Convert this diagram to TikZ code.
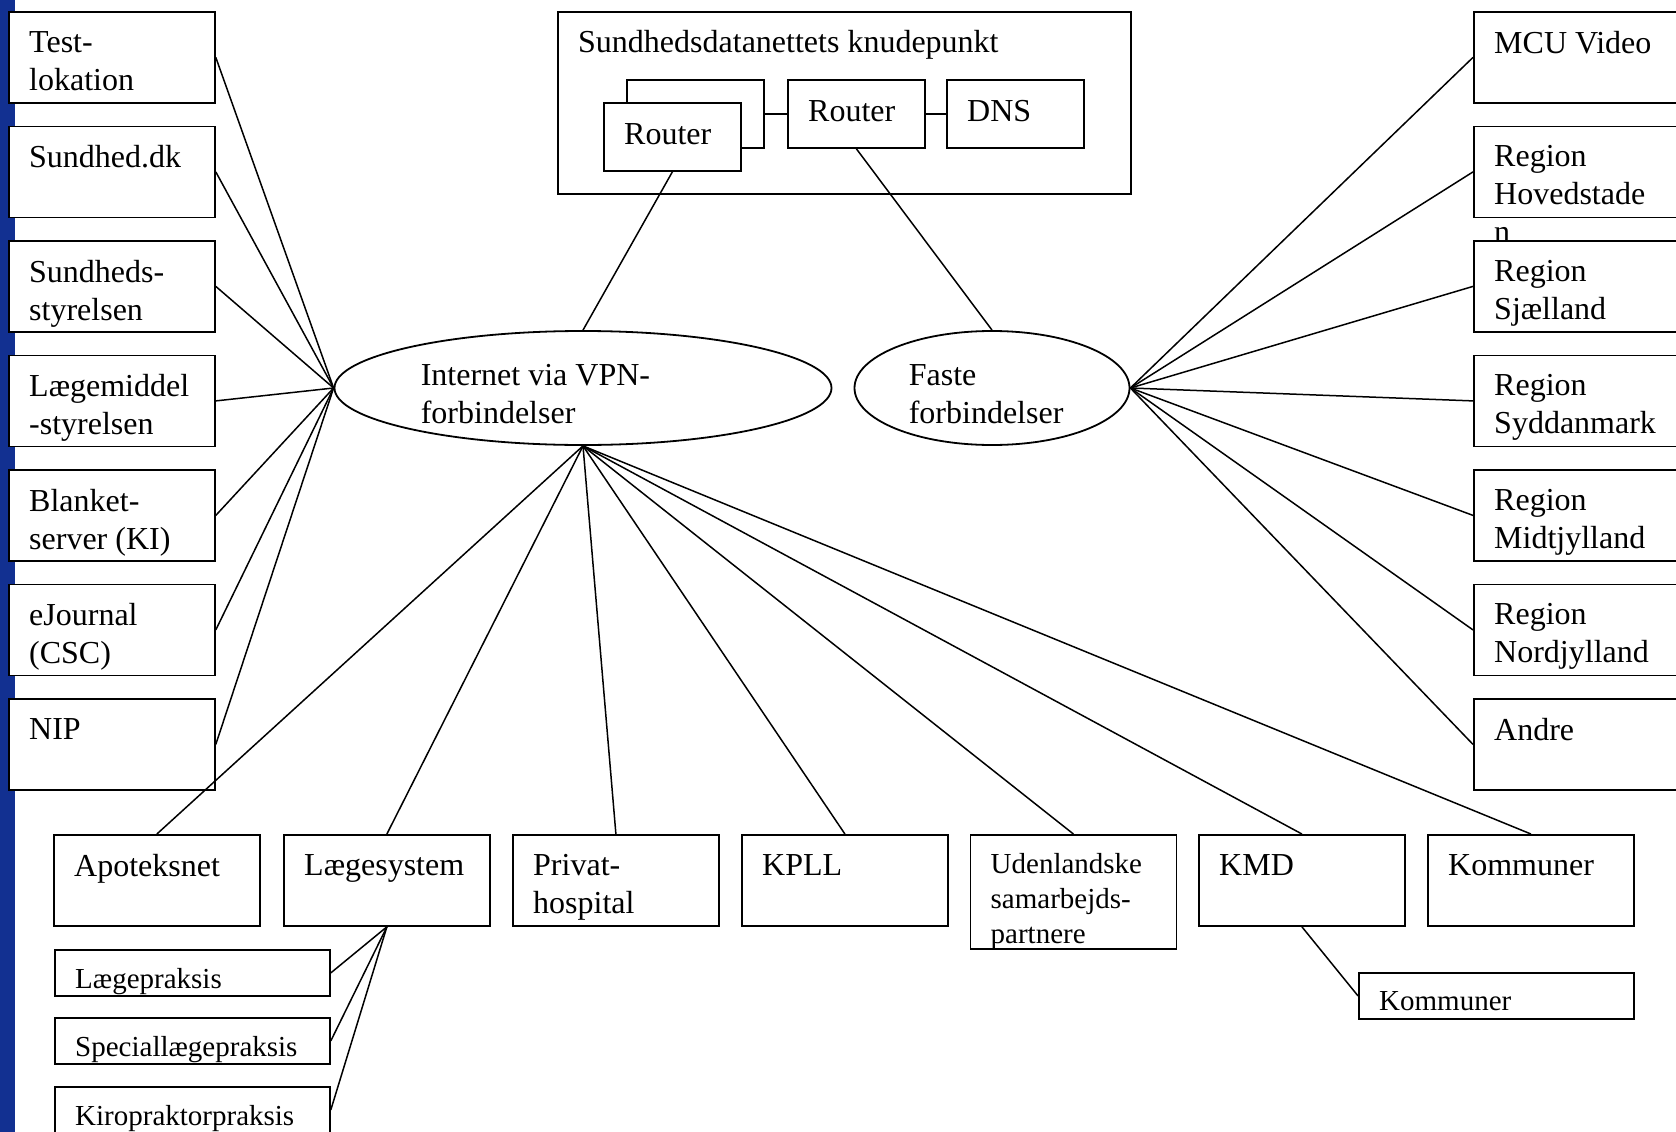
\documentclass[tikz,border=0pt]{standalone}
\usepackage{fontspec}
\setmainfont{Liberation Serif}
\usetikzlibrary{shapes.geometric}

\definecolor{balkblaa}{RGB}{18,48,145}

\tikzset{
  boks/.style={draw, fill=white, line width=1.8pt, anchor=north west, inner sep=0pt,
               minimum width=206pt, minimum height=91pt},
  lilleboks/.style={boks, minimum width=275pt, minimum height=46pt},
  routerboks/.style={boks, minimum width=137pt, minimum height=68pt},
  sky/.style={draw, ellipse, line width=1.8pt, inner sep=0pt, minimum height=114pt},
  tekst/.style={anchor=north west, inner sep=0pt, align=left, font=\fontsize{32}{38}\selectfont},
  ind/.style={tekst, xshift=21pt, yshift=-20pt},
  smaaind/.style={tekst, font=\fontsize{29}{35}\selectfont, xshift=21pt, yshift=-19pt},
  forbindelse/.style={line width=1.5pt},
}

\begin{document}
\begin{tikzpicture}[x=1pt, y=-1pt]
    \useasboundingbox (0,0) rectangle (1676,1132);
    \fill[balkblaa] (0,0) rectangle (15,1132);

    % knudepunkt
    \node[boks, minimum width=573pt, minimum height=182pt,
          label={[ind, yshift=0.5pt]north west:Sundhedsdatanettets knudepunkt}] (knudepunkt) at (557,11) {};
    \node[routerboks] (bagrouter) at (626,79) {};
    \node[routerboks, label={[ind, yshift=-1pt]north west:Router}] (router) at (603,102) {};
    \node[routerboks, label={[ind, yshift=-1pt]north west:Router}] (router2) at (787,79) {};
    \node[routerboks, label={[ind, yshift=-1pt]north west:DNS}] (dns) at (946,79) {};

    % forbindelser
    \node[sky, minimum width=497pt,
          label={[tekst, xshift=87pt, yshift=24pt]west:Internet via VPN-\\forbindelser}] (internet) at (583,388) {};
    \node[sky, minimum width=275pt,
          label={[tekst, xshift=55pt, yshift=24pt]west:Faste\\forbindelser}] (faste) at (992,388) {};

    % venstre
    \node[boks, label={[ind]north west:Test-\\lokation}] (test) at (8,11) {};
    \node[boks, label={[ind]north west:Sundhed.dk}] (sundheddk) at (8,125.5) {};
    \node[boks, label={[ind]north west:Sundheds-\\styrelsen}] (sst) at (8,240) {};
    \node[boks, label={[ind]north west:Lægemiddel\\-styrelsen}] (lms) at (8,354.5) {};
    \node[boks, label={[ind]north west:Blanket-\\server (KI)}] (blanket) at (8,469) {};
    \node[boks, label={[ind]north west:eJournal\\(CSC)}] (ejournal) at (8,583.5) {};
    \node[boks, label={[ind]north west:NIP}] (nip) at (8,698) {};

    % hoejre
    \node[boks, label={[ind]north west:MCU Video}] (mcu) at (1473,11) {};
    \node[boks, label={[ind]north west:Region\\Hovedstade\\n}] (hovedstaden) at (1473,125.5) {};
    \node[boks, label={[ind]north west:Region\\Sjælland}] (sjaelland) at (1473,240) {};
    \node[boks, label={[ind]north west:Region\\Syddanmark}] (syddanmark) at (1473,354.5) {};
    \node[boks, label={[ind]north west:Region\\Midtjylland}] (midtjylland) at (1473,469) {};
    \node[boks, label={[ind]north west:Region\\Nordjylland}] (nordjylland) at (1473,583.5) {};
    \node[boks, label={[ind]north west:Andre}] (andre) at (1473,698) {};

    % nederst
    \node[boks, label={[ind]north west:Apoteksnet}] (apoteksnet) at (53,834) {};
    \node[boks, label={[ind]north west:Lægesystem}] (laegesystem) at (283,834) {};
    \node[boks, label={[ind]north west:Privat-\\hospital}] (privat) at (512,834) {};
    \node[boks, label={[ind]north west:KPLL}] (kpll) at (741,834) {};
    \node[boks, minimum height=114pt,
          label={[smaaind]north west:Udenlandske\\samarbejds-\\partnere}] (udenlandske) at (969.5,834) {};
    \node[boks, label={[ind]north west:KMD}] (kmd) at (1198,834) {};
    \node[boks, label={[ind]north west:Kommuner}] (kommuner) at (1427,834) {};

    \node[lilleboks, label={[smaaind]north west:Lægepraksis}] (laegepraksis) at (54,949) {};
    \node[lilleboks, label={[smaaind]north west:Speciallægepraksis}] (speciallaege) at (54,1017) {};
    \node[lilleboks, label={[smaaind]north west:Kiropraktorpraksis}] (kiro) at (54,1086) {};
    \node[lilleboks, label={[smaaind]north west:Kommuner}] (kmdkommuner) at (1358,972) {};

    % linjer
    \draw[forbindelse] (bagrouter.east) -- (router2.west);
    \draw[forbindelse] (router2.east) -- (dns.west);
    \draw[forbindelse] (router.south) -- (internet.north);
    \draw[forbindelse] (router2.south) -- (faste.north);

    \draw[forbindelse] (test.east) -- (internet.west);
    \draw[forbindelse] (sundheddk.east) -- (internet.west);
    \draw[forbindelse] (sst.east) -- (internet.west);
    \draw[forbindelse] (lms.east) -- (internet.west);
    \draw[forbindelse] (blanket.east) -- (internet.west);
    \draw[forbindelse] (ejournal.east) -- (internet.west);
    \draw[forbindelse] (nip.east) -- (internet.west);

    \draw[forbindelse] (faste.east) -- (mcu.west);
    \draw[forbindelse] (faste.east) -- (hovedstaden.west);
    \draw[forbindelse] (faste.east) -- (sjaelland.west);
    \draw[forbindelse] (faste.east) -- (syddanmark.west);
    \draw[forbindelse] (faste.east) -- (midtjylland.west);
    \draw[forbindelse] (faste.east) -- (nordjylland.west);
    \draw[forbindelse] (faste.east) -- (andre.west);

    \draw[forbindelse] (internet.south) -- (apoteksnet.north);
    \draw[forbindelse] (internet.south) -- (laegesystem.north);
    \draw[forbindelse] (internet.south) -- (privat.north);
    \draw[forbindelse] (internet.south) -- (kpll.north);
    \draw[forbindelse] (internet.south) -- (udenlandske.north);
    \draw[forbindelse] (internet.south) -- (kmd.north);
    \draw[forbindelse] (internet.south) -- (kommuner.north);

    \draw[forbindelse] (laegesystem.south) -- (laegepraksis.east);
    \draw[forbindelse] (laegesystem.south) -- (speciallaege.east);
    \draw[forbindelse] (laegesystem.south) -- (kiro.east);
    \draw[forbindelse] (kmd.south) -- (kmdkommuner.west);
\end{tikzpicture}
\end{document}
